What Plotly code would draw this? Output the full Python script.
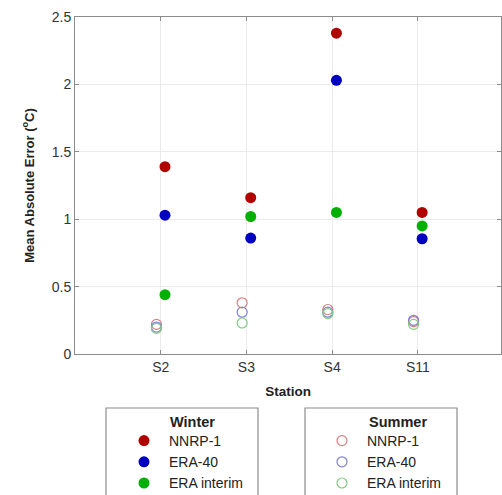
import plotly.graph_objects as go

stations = ["S2", "S3", "S4", "S11"]
products = ["NNRP-1", "ERA-40", "ERA interim"]

winter_nnrp = [1.39, 1.16, 2.38, 1.05]
winter_era40 = [1.03, 0.86, 2.03, 0.855]
winter_interim = [0.44, 1.02, 1.05, 0.95]

summer_nnrp = [0.22, 0.38, 0.33, 0.24]
summer_era40 = [0.20, 0.31, 0.31, 0.25]
summer_interim = [0.19, 0.23, 0.30, 0.22]

solid = ["#b00000", "#0000c0", "#00b000"]
pale = ["#d98080", "#8080d0", "#80cc80"]

FONT = "Liberation Sans, Arial, sans-serif"
pos = list(range(1, len(stations) + 1))

fig = go.Figure()
for name, vals, col in zip(products, [winter_nnrp, winter_era40, winter_interim], solid):
    fig.add_trace(go.Scatter(
        x=[p + 0.05 for p in pos], y=vals, mode="markers", name=name,
        marker=dict(symbol="circle", size=11, color=col, line=dict(width=0)),
        legend="legend",
    ))
for name, vals, col in zip(products, [summer_nnrp, summer_era40, summer_interim], pale):
    fig.add_trace(go.Scatter(
        x=[p - 0.05 for p in pos], y=vals, mode="markers", name=name,
        marker=dict(symbol="circle-open", size=10, color=col, line=dict(width=1.2, color=col)),
        legend="legend2",
    ))

axis_common = dict(
    showline=True, linecolor="#8c8c8c", linewidth=1, mirror="ticks",
    ticks="inside", ticklen=4, tickcolor="#8c8c8c",
    showgrid=True, gridcolor="#ebebeb", gridwidth=1, zeroline=False,
    tickfont=dict(family=FONT, size=14, color="#333333"),
)

legend_style = dict(xanchor="left", yanchor="top", y=(354 - 425) / 337,
                    bgcolor="rgba(0,0,0,0)", borderwidth=0, tracegroupgap=0,
                    font=dict(family=FONT, size=14, color="#222"), itemwidth=40)

fig.update_layout(
    width=502, height=495,
    margin=dict(l=75, r=1, t=17, b=141, autoexpand=False),
    paper_bgcolor="white", plot_bgcolor="white",
    xaxis=dict(range=[0, 4.97], tickvals=pos, ticktext=stations,
               title=dict(text="<b>Station</b>", font=dict(family=FONT, size=13.5, color="#222"), standoff=12),
               **axis_common),
    yaxis=dict(range=[0, 2.5], tickvals=[0, 0.5, 1, 1.5, 2, 2.5],
               ticktext=["0", "0.5", "1", "1.5", "2", "2.5"],
               title=dict(text="<b>Mean Absolute Error (<sup>o</sup>C)</b>",
                          font=dict(family=FONT, size=13, color="#222"), standoff=14),
               **axis_common),
    legend=dict(x=(119 - 75) / 426, **legend_style),
    legend2=dict(x=(317 - 75) / 426, **legend_style),
    showlegend=True,
)

# legend frames and headings
for x0, x1, head, hx in [(106, 258, "Winter", 168), (305, 457, "Summer", 367)]:
    fig.add_shape(type="rect", xref="paper", yref="paper",
                  x0=(x0 - 75) / 426, x1=(x1 - 75) / 426,
                  y0=(354 - 408) / 337, y1=(354 - 520) / 337,
                  line=dict(color="#8c8c8c", width=1.2), fillcolor="rgba(0,0,0,0)")
    fig.add_annotation(xref="paper", yref="paper", x=(hx - 75) / 426, y=(354 - 422) / 337,
                       xanchor="left", yanchor="middle", showarrow=False,
                       text=f"<b>{head}</b>", font=dict(family=FONT, size=14.5, color="#222"))

fig.write_html("out.html")
